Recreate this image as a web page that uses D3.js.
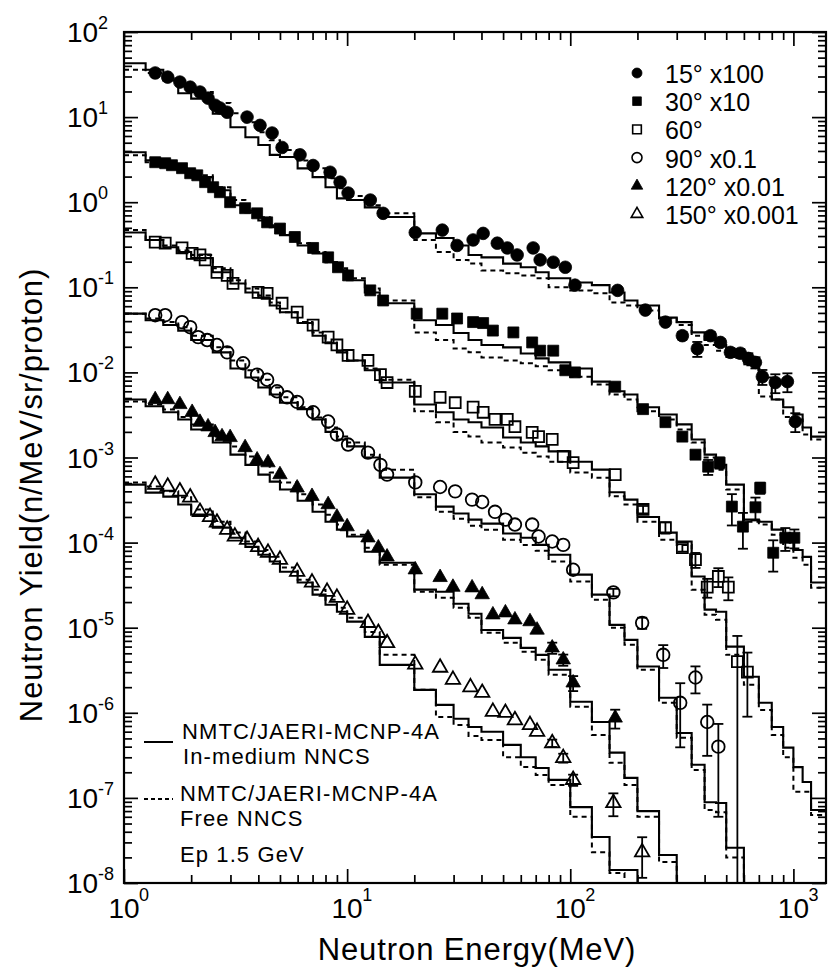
<!DOCTYPE html>
<html>
<head>
<meta charset="utf-8">
<script src="https://cdn.jsdelivr.net/npm/d3@7"></script>
<style>
  body { margin: 0; background: #fff; }
  svg { display: block; font-family: "Liberation Sans", Arial, Helvetica, sans-serif; }
</style>
</head>
<body>
<div id="chart"></div>
<script>
// energy bin edges (MeV) of the calculated spectra
var binEdges = [1, 1.25, 1.5, 1.75, 2, 2.5, 3, 3.5, 4, 4.5, 5, 6, 7, 8, 9, 10, 12, 14, 20, 25, 30, 35, 40, 50, 60,
                70, 80, 100, 125, 150, 175, 200, 250, 300, 350, 400, 450, 500, 600, 700, 800, 900, 1000, 1100, 1200, 1400];

var angleLabels  = ["15°", "30°", "60°", "90°", "120°", "150°"];
var factorLabels = ["x100", "x10", "", "x0.1", "x0.01", "x0.001"];
var xTickExps = [0, 1, 2, 3];
var yTickExps = [2, 1, 0, -1, -2, -3, -4, -5, -6, -7, -8];

// measured points (values as plotted, i.e. already multiplied by the factor)
var e15 = [1.38, 1.57, 1.78, 1.98, 2.19, 2.38, 2.56, 2.69, 2.90, 3.56, 4.07, 4.61, 5.11, 6.15, 7.04, 8.39, 9.30, 10.1, 12.7, 14.5,
           20.2, 26.7, 31.1, 36.7, 40.7, 47.1, 52.2, 57.8, 68.2, 73.3, 83.9, 95, 105, 163, 217, 267, 318, 371, 425, 471,
           522, 578, 628, 676, 726, 830, 940, 1020];
var y15 = [33, 29.5, 25.8, 22.5, 19.7, 16.7, 13.8, 12.8, 11.4, 10.0, 8.0, 6.5, 4.4, 3.6, 2.7, 2.25, 1.72, 1.28, 1.06, 0.74,
           0.44, 0.47, 0.31, 0.36, 0.43, 0.33, 0.29, 0.24, 0.29, 0.21, 0.197, 0.172, 0.106, 0.092, 0.054, 0.039, 0.027, 0.019, 0.027, 0.0225,
           0.0172, 0.0168, 0.0146, 0.0131, 0.0089, 0.0076, 0.0078, 0.00265];
var err15 = [0, 0, 0, 0, 0, 0, 0, 0, 0, 0, 0, 0, 0, 0, 0, 0, 0, 0, 0, 0,
             0, 0, 0, 0, 0, 0, 0, 0, 0, 0, 0, 0, 0, 0, 0, 0, 0.1, 0.2, 0.1, 0.1,
             0.12, 0.12, 0.15, 0.15, 0.2, 0.25, 0.25, 0.25];

var e30 = [1.38, 1.53, 1.64, 1.82, 1.98, 2.13, 2.31, 2.51, 2.69, 2.99, 3.49, 3.95, 4.38, 5.0, 5.83, 7.04, 8.22, 9.1, 10.1, 12.7,
           14.5, 20.5, 26.7, 31.1, 36.7, 40.7, 45, 55.6, 67.5, 73.3, 83.9, 95, 105, 159, 212, 267, 318, 364, 415, 467,
           530, 594, 676, 710, 812, 920, 1010];
var y30 = [2.95, 2.87, 2.72, 2.51, 2.19, 2.07, 1.72, 1.50, 1.31, 1.0, 0.85, 0.74, 0.58, 0.49, 0.39, 0.29, 0.225, 0.172, 0.138, 0.092,
           0.070, 0.049, 0.049, 0.043, 0.039, 0.038, 0.031, 0.0295, 0.0225, 0.018, 0.018, 0.0106, 0.0100, 0.0068, 0.0037, 0.0026, 0.00176, 0.00108, 7.8e-4, 8.7e-4,
           2.65e-4, 1.54e-4, 2.6e-4, 4.4e-4, 7.6e-5, 1.14e-4, 1.14e-4];
var err30 = [0, 0, 0, 0, 0, 0, 0, 0, 0, 0, 0, 0, 0, 0, 0, 0, 0, 0, 0, 0,
             0, 0, 0, 0, 0, 0, 0, 0, 0, 0, 0, 0, 0, 0, 0, 0, 0, 0.1, 0.2, 0.15,
             0.4, 0.45, 0.3, 0.15, 0.4, 0.3, 0.25];

var e60 = [1.38, 1.53, 1.82, 2.02, 2.19, 2.31, 2.61, 2.90, 3.08, 3.99, 4.38, 5.11, 5.97, 7.04, 8.22, 9.0, 10.1, 12.4, 14.1, 15.1,
           20.2, 26.1, 30.5, 36.7, 40.7, 46.0, 52.2, 56.5, 67.5, 72.1, 83.0, 93, 103, 159, 212, 267, 318, 364, 411, 461,
           511, 561, 622];
var y60 = [0.34, 0.33, 0.29, 0.25, 0.24, 0.21, 0.15, 0.138, 0.111, 0.087, 0.085, 0.065, 0.051, 0.036, 0.026, 0.021, 0.0158, 0.0138, 0.0094, 0.0076,
           0.0060, 0.0051, 0.0044, 0.0039, 0.0034, 0.0028, 0.0028, 0.0023, 0.00197, 0.00176, 0.00163, 0.00103, 8.7e-4, 6.3e-4, 2.45e-4, 1.5e-4, 8.7e-5, 6.3e-5, 3.0e-5, 4.0e-5,
           3.0e-5, 4.0e-6, 3.0e-6];
var err60 = [0, 0, 0, 0, 0, 0, 0, 0, 0, 0, 0, 0, 0, 0, 0, 0, 0, 0, 0, 0,
             0, 0, 0, 0, 0, 0, 0, 0, 0, 0, 0, 0, 0, 0, 0.1, 0.15, 0.1, 0.2, 0.25, 0.25,
             0.3, 1.0, 0.7];

var e90 = [1.38, 1.53, 1.82, 1.98, 2.15, 2.36, 2.61, 2.90, 3.42, 3.95, 4.38, 4.85, 5.38, 5.97, 7.04, 8.22, 9.0, 10.1, 12.4, 14.1,
           15.1, 20.2, 26.1, 30.5, 36.3, 40.3, 46.0, 51.2, 56.5, 67.5, 72.1, 83.0, 93, 103, 156, 210, 261, 311, 364, 411,
           461];
var y90 = [0.047, 0.047, 0.039, 0.034, 0.026, 0.024, 0.021, 0.0172, 0.0128, 0.0094, 0.0082, 0.0060, 0.0051, 0.0045, 0.0034, 0.00265, 0.00186, 0.00142, 0.00114, 8.2e-4,
           6.3e-4, 5.1e-4, 4.5e-4, 4.0e-4, 3.2e-4, 3.0e-4, 2.3e-4, 1.86e-4, 1.63e-4, 1.63e-4, 1.18e-4, 1.03e-4, 9.4e-5, 4.8e-5, 2.6e-5, 1.14e-5, 4.8e-6, 1.31e-6, 2.6e-6, 7.8e-7,
           4.0e-7];
var err90 = [0, 0, 0, 0, 0, 0, 0, 0, 0, 0, 0, 0, 0, 0, 0, 0, 0, 0, 0, 0,
             0, 0, 0, 0, 0, 0, 0, 0, 0, 0, 0, 0, 0, 0, 0.1, 0.15, 0.3, 0.7, 0.35, 0.6,
             0.85];

var e120 = [1.38, 1.57, 1.78, 2.02, 2.19, 2.38, 2.56, 2.75, 2.99, 3.49, 3.95, 4.42, 5.0, 5.97, 6.96, 8.22, 9.0, 10.0, 12.4, 13.8,
            15.1, 20.2, 26.1, 29.8, 36.3, 40.3, 45, 51.2, 56.5, 66, 71, 83, 93, 103, 159];
var y120 = [4.8e-3, 4.8e-3, 4.2e-3, 3.4e-3, 2.6e-3, 2.3e-3, 1.97e-3, 1.76e-3, 1.72e-3, 1.31e-3, 9.4e-4, 8.7e-4, 6.3e-4, 4.4e-4, 3.5e-4, 2.8e-4, 2.0e-4, 1.54e-4, 1.14e-4, 8.7e-5,
            6.8e-5, 4.8e-5, 3.9e-5, 3.0e-5, 2.95e-5, 2.45e-5, 1.42e-5, 1.5e-5, 1.24e-5, 1.18e-5, 9.4e-6, 5.8e-6, 4.2e-6, 2.25e-6, 8.7e-7];
var err120 = [0, 0, 0, 0, 0, 0, 0, 0, 0, 0, 0, 0, 0, 0, 0, 0, 0, 0, 0, 0,
              0, 0, 0, 0, 0, 0, 0, 0, 0, 0, 0, 0.15, 0.15, 0.2, 0.25];

var e150 = [1.38, 1.57, 1.78, 1.98, 2.19, 2.43, 2.61, 2.90, 3.14, 3.56, 3.99, 4.42, 5.0, 5.97, 6.96, 8.13, 9.0, 10.0, 12.4, 13.8,
            15.1, 20.2, 26.1, 29.8, 35.7, 40.3, 45, 51.2, 56.5, 66, 71, 83, 93, 103, 156, 210];
var y150 = [4.8e-4, 4.55e-4, 4.0e-4, 3.4e-4, 2.3e-4, 2.0e-4, 1.72e-4, 1.42e-4, 1.18e-4, 1.08e-4, 8.9e-5, 7.6e-5, 6.3e-5, 4.55e-5, 3.4e-5, 2.65e-5, 2.25e-5, 1.63e-5, 1.14e-5, 8.7e-6,
            6.6e-6, 3.7e-6, 3.4e-6, 2.45e-6, 2.0e-6, 1.72e-6, 1.03e-6, 1.0e-6, 8.2e-7, 7.2e-7, 6.0e-7, 4.4e-7, 2.95e-7, 1.63e-7, 8.7e-8, 2.3e-8];
var err150 = [0, 0, 0, 0, 0, 0, 0, 0, 0, 0, 0, 0, 0, 0, 0, 0, 0, 0, 0, 0,
              0, 0, 0, 0, 0, 0, 0, 0, 0, 0, 0, 0.1, 0.12, 0.15, 0.3, 0.5];

// NMTC/JAERI-MCNP-4A, one value per bin; a series that stops early drops to zero
var inMed15 = [43, 36, 27, 19.1, 16.5, 11.0, 7.6, 5.8, 4.7, 3.6, 3.4, 2.5, 1.97, 1.5, 1.11, 1.06, 0.87, 0.67, 0.43, 0.38,
               0.31, 0.24, 0.225, 0.19, 0.172, 0.15, 0.128, 0.114, 0.106, 0.087, 0.070, 0.061, 0.044, 0.039, 0.0295, 0.024, 0.021, 0.0167, 0.0138, 0.0087,
               0.0048, 0.0039, 0.0032, 0.00225, 0.00176];
var free15  = [36, 33, 28.7, 23.8, 19.7, 14.6, 11.1, 8.7, 6.65, 5.35, 4.1, 3.1, 2.5, 1.91, 1.46, 1.18, 0.92, 0.74, 0.36, 0.26,
               0.21, 0.19, 0.158, 0.146, 0.138, 0.128, 0.1, 0.092, 0.085, 0.0665, 0.061, 0.0535, 0.043, 0.036, 0.027, 0.021, 0.018, 0.0158, 0.0121, 0.0052,
               0.0048, 0.0030, 0.0028, 0.00186, 0.00163];

var inMed30 = [3.87, 3.11, 2.72, 2.38, 1.97, 1.38, 0.92, 0.76, 0.61, 0.51, 0.41, 0.31, 0.25, 0.197, 0.158, 0.121, 0.087, 0.065, 0.041, 0.036,
               0.029, 0.024, 0.021, 0.0197, 0.0167, 0.0146, 0.0131, 0.0111, 0.0078, 0.0060, 0.0055, 0.0039, 0.0032, 0.00245, 0.00163, 0.00108, 8.2e-4, 4.8e-4, 1.86e-4, 1.76e-4,
               1.42e-4, 1.08e-4, 8.2e-5, 6.8e-5, 3.4e-5];
var free30  = [3.57, 2.95, 2.72, 2.51, 2.07, 1.50, 1.06, 0.80, 0.665, 0.535, 0.43, 0.33, 0.26, 0.197, 0.167, 0.128, 0.097, 0.070, 0.0295, 0.024,
               0.0191, 0.0172, 0.015, 0.0138, 0.0128, 0.0118, 0.0106, 0.0089, 0.0072, 0.0055, 0.0048, 0.0035, 0.0028, 0.00213, 0.0015, 0.001, 7.2e-4, 4.2e-4, 1.76e-4, 1.63e-4,
               1.24e-4, 8.7e-5, 6.65e-5, 5.5e-5, 2.95e-5];

var inMed60 = [0.44, 0.36, 0.295, 0.26, 0.22, 0.15, 0.111, 0.087, 0.076, 0.061, 0.051, 0.038, 0.027, 0.022, 0.0172, 0.0138, 0.0106, 0.0076, 0.0042, 0.0034,
               0.0028, 0.0026, 0.00225, 0.00172, 0.0015, 0.00135, 0.00118, 8.9e-4, 7.2e-4, 3.9e-4, 3.2e-4, 2.0e-4, 1.31e-4, 1.03e-4, 4.0e-5, 1.63e-5, 1.54e-5, 6.0e-6, 2.65e-6, 1.31e-6,
               6.8e-7, 3.9e-7, 2.3e-7, 1.54e-7, 7.2e-8];
var free60  = [0.47, 0.36, 0.31, 0.27, 0.24, 0.167, 0.121, 0.097, 0.080, 0.0665, 0.051, 0.039, 0.0295, 0.0225, 0.018, 0.0138, 0.0111, 0.0082, 0.0035, 0.0026,
               0.002, 0.00176, 0.0015, 0.00131, 0.00114, 0.00103, 8.9e-4, 6.65e-4, 5.8e-4, 3.5e-4, 2.8e-4, 1.76e-4, 1.08e-4, 9.4e-5, 2.8e-5, 1.42e-5, 1.24e-5, 4.8e-6, 2.13e-6, 1.08e-6,
               5.5e-7, 3.0e-7, 1.18e-7, 1.18e-7, 6.3e-8];

var inMed90 = [0.049, 0.041, 0.036, 0.031, 0.024, 0.0172, 0.0111, 0.0087, 0.00665, 0.0055, 0.0044, 0.0037, 0.0028, 0.002, 0.00163, 0.00135, 0.001, 5.8e-4, 3.7e-4, 2.65e-4,
               2.2e-4, 1.86e-4, 1.67e-4, 1.28e-4, 1.14e-4, 9.4e-5, 7.2e-5, 4.2e-5, 2.45e-5, 1.08e-5, 7.2e-6, 3.5e-6, 1.5e-6, 5.8e-7, 2.45e-7, 8.9e-8, 8.7e-8, 2.6e-8];
var free90  = [0.049, 0.043, 0.039, 0.034, 0.027, 0.0197, 0.0138, 0.0106, 0.0082, 0.00665, 0.0051, 0.0039, 0.00295, 0.00225, 0.00176, 0.0015, 0.00108, 7.2e-4, 3.4e-4, 2.3e-4,
               1.91e-4, 1.58e-4, 1.42e-4, 1.08e-4, 9.4e-5, 8.0e-5, 6.0e-5, 3.5e-5, 2.13e-5, 1.0e-5, 6.3e-6, 3.2e-6, 1.31e-6, 5.1e-7, 2.13e-7, 7.2e-8, 6.8e-8, 2.0e-8];

var inMed120 = [4.8e-3, 4.0e-3, 3.4e-3, 2.8e-3, 2.13e-3, 1.5e-3, 1.08e-3, 8.2e-4, 6.3e-4, 5.2e-4, 4.2e-4, 3.1e-4, 2.3e-4, 1.76e-4, 1.42e-4, 1.18e-4, 7.8e-5, 5.8e-5, 2.8e-5, 2.65e-5,
                1.91e-5, 1.46e-5, 9.4e-6, 7.6e-6, 5.8e-6, 4.8e-6, 3.2e-6, 1.35e-6, 7.8e-7, 3.4e-7, 1.72e-7, 7.0e-8, 2.13e-8];
var free120  = [4.55e-3, 4.2e-3, 3.66e-3, 3.0e-3, 2.45e-3, 1.76e-3, 1.35e-3, 1.03e-3, 8.2e-4, 6.65e-4, 5.1e-4, 3.7e-4, 2.8e-4, 2.13e-4, 1.63e-4, 1.24e-4, 8.7e-5, 5.5e-5, 2.65e-5, 2.25e-5,
                1.72e-5, 1.31e-5, 8.7e-6, 6.65e-6, 5.2e-6, 4.2e-6, 2.8e-6, 1.18e-6, 5.5e-7, 2.58e-7, 1.42e-7, 6.0e-8, 1.76e-8];

var inMed150 = [4.8e-4, 3.87e-4, 3.47e-4, 2.8e-4, 2.13e-4, 1.5e-4, 1.14e-4, 8.9e-5, 7.2e-5, 6.0e-5, 4.55e-5, 3.4e-5, 2.45e-5, 1.86e-5, 1.54e-5, 1.18e-5, 7.8e-6, 3.66e-6, 1.86e-6, 1.24e-6,
                8.5e-7, 6.8e-7, 6.0e-7, 4.2e-7, 3.0e-7, 2.25e-7, 1.63e-7, 7.8e-8, 3.47e-8, 1.42e-8, 1.42e-8];
var free150  = [5.1e-4, 4.55e-4, 4.0e-4, 3.4e-4, 2.45e-4, 1.76e-4, 1.31e-4, 1.03e-4, 8.2e-5, 6.8e-5, 5.1e-5, 3.66e-5, 2.8e-5, 2.13e-5, 1.72e-5, 1.31e-5, 8.9e-6, 4.8e-6, 1.86e-6, 8.9e-7,
                7.2e-7, 5.35e-7, 4.8e-7, 3.0e-7, 2.3e-7, 1.86e-7, 1.42e-7, 6.0e-8, 2.3e-8, 1.31e-8];

var series = [
	{ e: e15,  y: y15,  err: err15,  inMed: inMed15,  free: free15,  symbol: d3.symbolCircle,   filled: true  },
	{ e: e30,  y: y30,  err: err30,  inMed: inMed30,  free: free30,  symbol: d3.symbolSquare,   filled: true  },
	{ e: e60,  y: y60,  err: err60,  inMed: inMed60,  free: free60,  symbol: d3.symbolSquare,   filled: false },
	{ e: e90,  y: y90,  err: err90,  inMed: inMed90,  free: free90,  symbol: d3.symbolCircle,   filled: false },
	{ e: e120, y: y120, err: err120, inMed: inMed120, free: free120, symbol: d3.symbolTriangle, filled: true  },
	{ e: e150, y: y150, err: err150, inMed: inMed150, free: free150, symbol: d3.symbolTriangle, filled: false }
];

var _size  = { width: 835, height: 970 };
var _frame = { left: 124, right: 826, top: 32, bottom: 883 };
var _floor = 1e-9;   // below the axis, used for drops to zero

var x = d3.scaleLog().domain([1, 1400]).range([_frame.left, _frame.right]);
var y = d3.scaleLog().domain([1e-8, 1e2]).range([_frame.bottom, _frame.top]);

var svg = d3.select("#chart").append("svg")
	.attr("width", _size.width)
	.attr("height", _size.height);

svg.append("rect").attr("width", _size.width).attr("height", _size.height).attr("fill", "#fff");

svg.append("clipPath").attr("id", "plot-area")
	.append("rect")
	.attr("x", _frame.left).attr("y", _frame.top)
	.attr("width", _frame.right - _frame.left)
	.attr("height", _frame.bottom - _frame.top);

// ---- axes: ticks point inward on all four sides
function minorValues(scale) {
	var d = scale.domain(), out = [];
	for (var p = Math.floor(Math.log10(d[0])); p <= Math.ceil(Math.log10(d[1])); p++)
		for (var m = 2; m <= 9; m++) {
			var v = m * Math.pow(10, p);
			if (v > d[0] && v < d[1]) out.push(v);
		}
	return out;
}
var xMajor = xTickExps.map(function(p) { return Math.pow(10, p); });
var yMajor = yTickExps.map(function(p) { return Math.pow(10, p); });

var axes = svg.append("g").attr("class", "axes");
function addAxis(axisFn, scale, transform) {
	axes.append("g").attr("transform", transform)
		.call(axisFn(scale).tickValues(minorValues(scale)).tickSize(-8).tickFormat(""));
	axes.append("g").attr("transform", transform)
		.call(axisFn(scale).tickValues(scale === x ? xMajor : yMajor).tickSize(-14).tickFormat(""));
}
addAxis(d3.axisBottom, x, "translate(0," + _frame.bottom + ")");
addAxis(d3.axisTop,    x, "translate(0," + _frame.top + ")");
addAxis(d3.axisLeft,   y, "translate(" + _frame.left + ",0)");
addAxis(d3.axisRight,  y, "translate(" + _frame.right + ",0)");
axes.selectAll(".domain").remove();
axes.selectAll(".tick line").attr("stroke", "#000").attr("stroke-width", 1.7);

svg.append("rect")
	.attr("x", _frame.left).attr("y", _frame.top)
	.attr("width", _frame.right - _frame.left)
	.attr("height", _frame.bottom - _frame.top)
	.attr("fill", "none").attr("stroke", "#000").attr("stroke-width", 2.2);

// tick labels 10^n
var labels = svg.append("g").attr("fill", "#000");
xTickExps.forEach(function(p) {
	var px = x(Math.pow(10, p));
	labels.append("text").attr("x", px).attr("y", 918).attr("text-anchor", "middle")
		.attr("font-size", 28).text("10");
	labels.append("text").attr("x", px + 15).attr("y", 901).attr("font-size", 18).text(p);
});
yTickExps.forEach(function(p) {
	var py = y(Math.pow(10, p));
	labels.append("text").attr("x", 67).attr("y", py + 10).attr("font-size", 28).text("10");
	labels.append("text").attr("x", 98).attr("y", py - 3).attr("font-size", 18).text(p);
});

svg.append("text")
	.attr("x", 477).attr("y", 960).attr("text-anchor", "middle")
	.attr("font-size", 31).attr("letter-spacing", 0.9)
	.text("Neutron Energy(MeV)");
svg.append("text")
	.attr("transform", "translate(42,495) rotate(-90)").attr("text-anchor", "middle")
	.attr("font-size", 31).attr("letter-spacing", 0.9)
	.text("Neutron Yield(n/MeV/sr/proton)");

// ---- calculated spectra as step histograms
var plot = svg.append("g").attr("clip-path", "url(#plot-area)");
var stepLine = d3.line()
	.x(function(d) { return x(d[0]); })
	.y(function(d) { return y(d[1]); })
	.curve(d3.curveStepAfter);

function histPoints(vals) {
	var pts = vals.map(function(v, i) { return [binEdges[i], v]; });
	var n = vals.length;
	pts.push([binEdges[n], vals[n - 1]]);
	if (n < binEdges.length - 1) pts.push([binEdges[n], _floor]);
	return pts;
}

series.forEach(function(s) {
	plot.append("path").datum(histPoints(s.free))
		.attr("d", stepLine).attr("fill", "none")
		.attr("stroke", "#000").attr("stroke-width", 2).attr("stroke-dasharray", "5,4");
	plot.append("path").datum(histPoints(s.inMed))
		.attr("d", stepLine).attr("fill", "none")
		.attr("stroke", "#000").attr("stroke-width", 2.1);
});

// ---- error bars
series.forEach(function(s) {
	var g = plot.append("g").attr("stroke", "#000").attr("stroke-width", 1.8);
	s.e.forEach(function(e, i) {
		var r = s.err[i];
		if (!r) return;
		var px = x(e);
		var hi = y(s.y[i] * (1 + r));
		var lo = (1 - r) > 0.001 ? y(s.y[i] * (1 - r)) : y(_floor);
		g.append("line").attr("x1", px).attr("x2", px).attr("y1", hi).attr("y2", lo);
		g.append("line").attr("x1", px - 5).attr("x2", px + 5).attr("y1", hi).attr("y2", hi);
		if ((1 - r) > 0.001)
			g.append("line").attr("x1", px - 5).attr("x2", px + 5).attr("y1", lo).attr("y2", lo);
	});
});

// ---- measured points
function symbolSize(s, legend) {
	if (s.symbol === d3.symbolTriangle) return legend ? 58 : 90;
	if (s.symbol === d3.symbolSquare) return legend ? 75 : 120;
	return legend ? 78 : 125;
}
series.forEach(function(s) {
	var sym = d3.symbol().type(s.symbol).size(symbolSize(s, false));
	plot.append("g").selectAll("path")
		.data(s.e.map(function(e, i) { return [e, s.y[i]]; }))
		.enter().append("path")
		.attr("d", sym)
		.attr("transform", function(d) { return "translate(" + x(d[0]) + "," + y(d[1]) + ")"; })
		.attr("fill", s.filled ? "#000" : "none")
		.attr("stroke", "#000").attr("stroke-width", s.filled ? 0.8 : 1.8);
});

// ---- legend, top right
var legend = svg.append("g").attr("font-size", 25);
series.forEach(function(s, i) {
	var my = 73 + 28.2 * i;
	legend.append("path")
		.attr("d", d3.symbol().type(s.symbol).size(symbolSize(s, true)))
		.attr("transform", "translate(637," + my + ")")
		.attr("fill", s.filled ? "#000" : "none")
		.attr("stroke", "#000").attr("stroke-width", s.filled ? 0.8 : 1.6);
	legend.append("text").attr("x", 665).attr("y", my + 10)
		.text(angleLabels[i] + (factorLabels[i] ? " " + factorLabels[i] : ""));
});

// ---- legend, bottom left
var key = svg.append("g").attr("font-size", 22).attr("letter-spacing", 1.1);
key.append("line").attr("x1", 144).attr("x2", 173).attr("y1", 742).attr("y2", 742)
	.attr("stroke", "#000").attr("stroke-width", 2);
key.append("text").attr("x", 182).attr("y", 739).text("NMTC/JAERI-MCNP-4A");
key.append("text").attr("x", 183).attr("y", 764).text("In-medium NNCS");
key.append("line").attr("x1", 144).attr("x2", 173).attr("y1", 799).attr("y2", 799)
	.attr("stroke", "#000").attr("stroke-width", 2).attr("stroke-dasharray", "4,3");
key.append("text").attr("x", 180).attr("y", 801).text("NMTC/JAERI-MCNP-4A");
key.append("text").attr("x", 180).attr("y", 826).text("Free NNCS");
key.append("text").attr("x", 180).attr("y", 862).text("Ep 1.5 GeV");
</script>
</body>
</html>
